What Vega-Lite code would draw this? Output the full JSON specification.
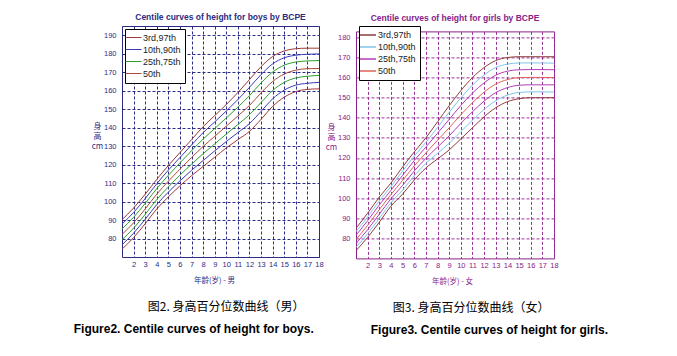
{
  "$schema": "https://vega.github.io/schema/vega-lite/v6.json",
  "background": "white",
  "padding": {"left": 73, "top": 12, "right": 5, "bottom": 5},
  "spacing": 0,
  "datasets": {
    "groups": [
      {"pct": "p3", "grp": "3rd,97th"}, {"pct": "p97", "grp": "3rd,97th"},
      {"pct": "p10", "grp": "10th,90th"}, {"pct": "p90", "grp": "10th,90th"},
      {"pct": "p25", "grp": "25th,75th"}, {"pct": "p75", "grp": "25th,75th"},
      {"pct": "p50", "grp": "50th"}
    ],
    "boys": [
      {"age": 1, "p3": 74.2, "p10": 76.6, "p25": 79.3, "p50": 82.2, "p75": 85.2, "p90": 87.8, "p97": 90.2},
      {"age": 2, "p3": 80.5, "p10": 82.9, "p25": 85.6, "p50": 88.5, "p75": 91.5, "p90": 94.1, "p97": 96.5},
      {"age": 3, "p3": 88, "p10": 90.4, "p25": 93.1, "p50": 96, "p75": 99, "p90": 101.6, "p97": 104},
      {"age": 4, "p3": 96, "p10": 98.4, "p25": 101.1, "p50": 104, "p75": 107, "p90": 109.6, "p97": 112},
      {"age": 5, "p3": 102.5, "p10": 105.1, "p25": 107.9, "p50": 111, "p75": 114.2, "p90": 117, "p97": 119.5},
      {"age": 6, "p3": 108.5, "p10": 111.2, "p25": 114.3, "p50": 117.5, "p75": 120.9, "p90": 123.8, "p97": 126.5},
      {"age": 7, "p3": 114, "p10": 116.9, "p25": 120.2, "p50": 123.8, "p75": 127.5, "p90": 130.6, "p97": 133.5},
      {"age": 8, "p3": 119, "p10": 122.2, "p25": 125.9, "p50": 129.8, "p75": 133.8, "p90": 137.3, "p97": 140.5},
      {"age": 9, "p3": 124, "p10": 127.4, "p25": 131.2, "p50": 135.3, "p75": 139.5, "p90": 143.1, "p97": 146.5},
      {"age": 10, "p3": 129, "p10": 132.5, "p25": 136.5, "p50": 140.8, "p75": 145.2, "p90": 149, "p97": 152.5},
      {"age": 11, "p3": 133.5, "p10": 137.3, "p25": 141.7, "p50": 146.3, "p75": 151.1, "p90": 155.2, "p97": 159},
      {"age": 12, "p3": 138, "p10": 142.2, "p25": 147, "p50": 152, "p75": 157.3, "p90": 161.8, "p97": 166},
      {"age": 13, "p3": 144.5, "p10": 148.8, "p25": 153.6, "p50": 158.8, "p75": 164.2, "p90": 168.7, "p97": 173},
      {"age": 14, "p3": 151.5, "p10": 155.6, "p25": 160.1, "p50": 165, "p75": 170.1, "p90": 174.5, "p97": 178.5},
      {"age": 15, "p3": 156.5, "p10": 160.3, "p25": 164.5, "p50": 169, "p75": 173.8, "p90": 177.8, "p97": 181.5},
      {"age": 16, "p3": 159.5, "p10": 163, "p25": 166.9, "p50": 171.1, "p75": 175.5, "p90": 179.2, "p97": 182.7},
      {"age": 17, "p3": 160.7, "p10": 164, "p25": 167.8, "p50": 171.9, "p75": 176.1, "p90": 179.7, "p97": 183},
      {"age": 18, "p3": 161, "p10": 164.5, "p25": 168.3, "p50": 172, "p75": 176.3, "p90": 179.9, "p97": 183}
    ],
    "girls": [
      {"age": 1, "p3": 73.8, "p10": 75.5, "p25": 77.4, "p50": 79.4, "p75": 81.5, "p90": 83.3, "p97": 85},
      {"age": 2, "p3": 80.5, "p10": 82.3, "p25": 84.3, "p50": 86.5, "p75": 88.8, "p90": 90.7, "p97": 92.5},
      {"age": 3, "p3": 88, "p10": 89.9, "p25": 92, "p50": 94.3, "p75": 96.6, "p90": 98.6, "p97": 100.5},
      {"age": 4, "p3": 96, "p10": 97.7, "p25": 99.7, "p50": 101.8, "p75": 103.9, "p90": 105.8, "p97": 107.5},
      {"age": 5, "p3": 102, "p10": 104, "p25": 106.3, "p50": 108.8, "p75": 111.3, "p90": 113.5, "p97": 115.5},
      {"age": 6, "p3": 109, "p10": 111.1, "p25": 113.5, "p50": 116, "p75": 118.7, "p90": 120.9, "p97": 123},
      {"age": 7, "p3": 115, "p10": 117.3, "p25": 119.8, "p50": 122.5, "p75": 125.4, "p90": 127.8, "p97": 130},
      {"age": 8, "p3": 119.5, "p10": 122.3, "p25": 125.4, "p50": 128.8, "p75": 132.3, "p90": 135.2, "p97": 138},
      {"age": 9, "p3": 124, "p10": 127.3, "p25": 131, "p50": 135, "p75": 139.2, "p90": 142.7, "p97": 146},
      {"age": 10, "p3": 129.5, "p10": 133.1, "p25": 137.2, "p50": 141.5, "p75": 146.1, "p90": 149.9, "p97": 153.5},
      {"age": 11, "p3": 135, "p10": 138.8, "p25": 143, "p50": 147.5, "p75": 152.3, "p90": 156.3, "p97": 160},
      {"age": 12, "p3": 140.5, "p10": 144.2, "p25": 148.3, "p50": 152.8, "p75": 157.4, "p90": 161.3, "p97": 165},
      {"age": 13, "p3": 145, "p10": 148.5, "p25": 152.5, "p50": 156.8, "p75": 161.2, "p90": 165, "p97": 168.5},
      {"age": 14, "p3": 148, "p10": 151.3, "p25": 155, "p50": 159, "p75": 163.2, "p90": 166.7, "p97": 170},
      {"age": 15, "p3": 149.5, "p10": 152.6, "p25": 156.2, "p50": 160, "p75": 163.9, "p90": 167.3, "p97": 170.4},
      {"age": 16, "p3": 150, "p10": 152.9, "p25": 156.4, "p50": 160.1, "p75": 164, "p90": 167.3, "p97": 170.4},
      {"age": 17, "p3": 150, "p10": 152.9, "p25": 156.4, "p50": 160.1, "p75": 164, "p90": 167.3, "p97": 170.4},
      {"age": 18, "p3": 150, "p10": 152.8, "p25": 156.4, "p50": 160, "p75": 163.9, "p90": 167.2, "p97": 170.4}
    ]
  },
  "resolve": {"scale": {"x": "independent", "y": "independent", "color": "independent"}, "legend": {"color": "independent"}},
  "hconcat": [
    {
      "title": {"text": "Figure2. Centile curves of height for boys.", "orient": "bottom", "anchor": "start", "frame": "bounds", "dx": -17, "offset": 11, "font": "Liberation Sans", "fontSize": 12, "fontWeight": "bold", "color": "#000000"},
      "vconcat": [
        {
          "title": {"text": "图2. 身高百分位数曲线（男）", "orient": "bottom", "anchor": "start", "frame": "bounds", "dx": 57, "offset": 17, "font": "Noto Sans CJK SC", "fontSize": 12, "fontWeight": "normal", "color": "#000000"},
          "vconcat": [
            {
              "width": 197,
              "height": 231,
              "title": {"text": "Centile curves of height for boys by BCPE", "font": "Liberation Sans", "fontSize": 8.5, "fontWeight": "bold", "color": "#2c2c84", "offset": 5, "anchor": "middle"},
              "view": {"stroke": "#2c2c84", "strokeWidth": 1},
              "data": {"name": "boys"},
              "transform": [
                {"fold": ["p3", "p10", "p25", "p50", "p75", "p90", "p97"], "as": ["pct", "h"]},
                {"lookup": "pct", "from": {"data": {"name": "groups"}, "key": "pct", "fields": ["grp"]}}
              ],
              "mark": {"type": "line", "interpolate": "monotone", "strokeWidth": 1, "clip": true},
              "encoding": {
                "x": {"field": "age", "type": "quantitative", "scale": {"domain": [1, 18], "nice": false, "zero": false},
                  "axis": {"values": [2, 3, 4, 5, 6, 7, 8, 9, 10, 11, 12, 13, 14, 15, 16, 17, 18], "grid": true, "gridColor": "#2c2c84", "gridDash": [3, 2], "gridOpacity": 1, "gridWidth": 1, "domain": false, "ticks": false, "labelFont": "Liberation Sans", "labelFontSize": 7.5, "labelColor": "#2c2c84", "labelPadding": 3, "labelFlush": false, "labelOverlap": false, "title": "年龄(岁) - 男", "titleFont": "Noto Sans CJK SC", "titleFontSize": 7.5, "titleFontWeight": "normal", "titleColor": "#2c2c84", "titlePadding": 9, "titleX": 92}},
                "y": {"field": "h", "type": "quantitative", "scale": {"domain": [70, 195], "nice": false, "zero": false},
                  "axis": {"values": [80, 90, 100, 110, 120, 130, 140, 150, 160, 170, 180, 190], "grid": true, "gridColor": "#2c2c84", "gridDash": [3, 2], "gridOpacity": 1, "gridWidth": 1, "domain": false, "ticks": false, "labelFont": "Liberation Sans", "labelFontSize": 7.5, "labelColor": "#2c2c84", "labelPadding": 6, "labelOverlap": false, "title": ["身", "高", "cm"], "titleFont": "Noto Sans CJK SC", "titleFontSize": 8, "titleFontWeight": "normal", "titleColor": "#2c2c84", "titleAngle": 0, "titleX": -25, "titleY": 96, "titleAlign": "center", "titleBaseline": "top", "titleLineHeight": 10}},
                "color": {"field": "grp", "type": "nominal", "scale": {"domain": ["3rd,97th", "10th,90th", "25th,75th", "50th"], "range": ["#9c3a3a", "#3c3cb4", "#2e9e2e", "#a84a3a"]},
                  "legend": {"title": null, "orient": "none", "legendX": 3, "legendY": 3, "padding": 4, "strokeColor": "#000000", "fillColor": "#ffffff", "labelFont": "Liberation Sans", "labelFontSize": 9, "labelColor": "#222222", "symbolType": "M-2,0L2,0", "symbolSize": 64, "symbolStrokeWidth": 1, "rowPadding": 2, "labelOffset": 5}},
                "detail": {"field": "pct", "type": "nominal"}
              }
            }
          ]
        }
      ]
    },
    {
      "title": {"text": "Figure3. Centile curves of height for girls.", "orient": "bottom", "anchor": "start", "frame": "bounds", "dx": 46, "offset": 11, "font": "Liberation Sans", "fontSize": 12, "fontWeight": "bold", "color": "#000000"},
      "vconcat": [
        {
          "title": {"text": "图3. 身高百分位数曲线（女）", "orient": "bottom", "anchor": "start", "frame": "bounds", "dx": 68, "offset": 17, "font": "Noto Sans CJK SC", "fontSize": 12, "fontWeight": "normal", "color": "#000000"},
          "spacing": 3.4,
          "vconcat": [
            {
              "width": 198,
              "height": 1,
              "title": {"text": "Centile curves of height for girls by BCPE", "font": "Liberation Sans", "fontSize": 8.5, "fontWeight": "bold", "color": "#882288", "offset": 4, "anchor": "middle"},
              "view": {"stroke": null},
              "data": {"values": []},
              "mark": "text"
            },
            {
              "width": 198,
              "height": 227,
              "view": {"stroke": "#882288", "strokeWidth": 1},
              "data": {"name": "girls"},
              "transform": [
                {"fold": ["p3", "p10", "p25", "p50", "p75", "p90", "p97"], "as": ["pct", "h"]},
                {"lookup": "pct", "from": {"data": {"name": "groups"}, "key": "pct", "fields": ["grp"]}}
              ],
              "mark": {"type": "line", "interpolate": "monotone", "strokeWidth": 1, "clip": true},
              "encoding": {
                "x": {"field": "age", "type": "quantitative", "scale": {"domain": [1, 18], "nice": false, "zero": false},
                  "axis": {"values": [2, 3, 4, 5, 6, 7, 8, 9, 10, 11, 12, 13, 14, 15, 16, 17, 18], "grid": true, "gridColor": "#993399", "gridDash": [3, 2], "gridOpacity": 1, "gridWidth": 1, "domain": false, "ticks": false, "labelFont": "Liberation Sans", "labelFontSize": 7.5, "labelColor": "#882288", "labelPadding": 3, "labelFlush": false, "labelOverlap": false, "title": "年龄(岁) - 女", "titleFont": "Noto Sans CJK SC", "titleFontSize": 7.5, "titleFontWeight": "normal", "titleColor": "#882288", "titlePadding": 9, "titleX": 96}},
                "y": {"field": "h", "type": "quantitative", "scale": {"domain": [70, 183], "nice": false, "zero": false},
                  "axis": {"values": [80, 90, 100, 110, 120, 130, 140, 150, 160, 170, 180], "grid": true, "gridColor": "#993399", "gridDash": [3, 2], "gridOpacity": 1, "gridWidth": 1, "domain": false, "ticks": false, "labelFont": "Liberation Sans", "labelFontSize": 7.5, "labelColor": "#882288", "labelPadding": 6, "labelOverlap": false, "title": ["身", "高", "cm"], "titleFont": "Noto Sans CJK SC", "titleFontSize": 8, "titleFontWeight": "normal", "titleColor": "#882288", "titleAngle": 0, "titleX": -25, "titleY": 92, "titleAlign": "center", "titleBaseline": "top", "titleLineHeight": 10}},
                "color": {"field": "grp", "type": "nominal", "scale": {"domain": ["3rd,97th", "10th,90th", "25th,75th", "50th"], "range": ["#8e3b3b", "#7fc4e8", "#b03cb8", "#e0605a"]},
                  "legend": {"title": null, "orient": "none", "legendX": 3, "legendY": 0, "padding": 4, "strokeColor": "#000000", "fillColor": "#ffffff", "labelFont": "Liberation Sans", "labelFontSize": 9, "labelColor": "#222222", "symbolType": "M-2,0L2,0", "symbolSize": 64, "symbolStrokeWidth": 1.5, "rowPadding": 2, "labelOffset": 5}},
                "detail": {"field": "pct", "type": "nominal"}
              }
            }
          ]
        }
      ]
    }
  ]
}
